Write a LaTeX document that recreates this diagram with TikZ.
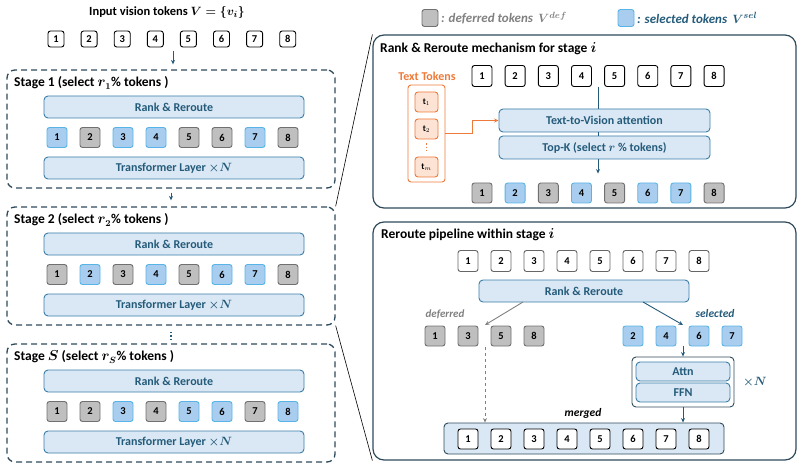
\documentclass[tikz,border=0pt]{standalone}
\usepackage{amsmath}
\usepackage{fontspec}
\setmainfont{Carlito}
\usetikzlibrary{arrows.meta,calc}
\definecolor{teal1}{HTML}{245B7A}
\definecolor{rrfill}{HTML}{DAE8F5}
\definecolor{rrdraw}{HTML}{3A7DA8}
\definecolor{selfill}{HTML}{A9CDEE}
\definecolor{seldraw}{HTML}{58B4E6}
\definecolor{deffill}{HTML}{BFBFBF}
\definecolor{defdraw}{HTML}{707070}
\definecolor{frame}{HTML}{2E4A5A}
\definecolor{orng}{HTML}{EE7A3A}
\definecolor{orfill}{HTML}{FCE3D4}
\definecolor{gtext}{HTML}{808080}
\begin{document}
\begin{tikzpicture}[x=1pt,y=-1pt,
  tokbase/.style={rounded corners=2.5pt, minimum width=20pt, minimum height=20pt, inner sep=0pt, line width=0.9pt, font=\bfseries\fontsize{10.5}{10.5}\selectfont},
  wtok/.style={tokbase, draw=black, fill=white},
  wtokin/.style={wtok, minimum width=16pt, minimum height=16pt},
  gwtok/.style={tokbase, draw=black!60, fill=white},
  stok/.style={tokbase, draw=seldraw, fill=selfill},
  dtok/.style={tokbase, draw=defdraw, fill=deffill},
  rrbox/.style={draw=rrdraw, fill=rrfill, line width=0.9pt, rounded corners=4pt, inner sep=0pt, text=teal1, font=\bfseries\boldmath\fontsize{12}{12}\selectfont},
  stagebox/.style={draw=frame, line width=1.3pt, dash pattern=on 6pt off 4pt, rounded corners=8pt},
  panel/.style={draw=frame, line width=1.2pt, rounded corners=11pt},
  ttl/.style={anchor=west, inner sep=0pt, font=\bfseries\boldmath\fontsize{13.5}{14}\selectfont},
  arr/.style={-{Stealth[length=4.5pt,width=4pt]}, line width=0.9pt, draw=teal1},
  garr/.style={-{Stealth[length=4.5pt,width=4pt]}, line width=0.9pt, draw=gtext},
  ttok/.style={draw=orng, fill=orfill, line width=0.9pt, rounded corners=3pt, minimum width=23pt, minimum height=20pt, inner sep=0pt, font=\bfseries\fontsize{9}{9}\selectfont},
]
\useasboundingbox (0,0) rectangle (803,465);

% ---------- left column ----------
\node[inner sep=0pt, font=\bfseries\boldmath\fontsize{12.5}{13}\selectfont] (intitle) at (167,13) {Input vision tokens $V=\{v_i\}$};
\foreach \k in {1,...,8}
  \node[wtokin] (in\k) at ({56+33.1*(\k-1)},39) {\k};

\foreach \T/\nm/\sub/\c [count=\i] in {70/1/1/{stok,dtok,stok,stok,dtok,dtok,stok,dtok},
                                     207/2/2/{dtok,stok,dtok,stok,dtok,stok,stok,dtok},
                                     344/$S$/S/{dtok,dtok,stok,dtok,stok,stok,dtok,stok}}{
  \node[stagebox, minimum width=328pt, minimum height=118pt, inner sep=0pt] (s\i) at (171,\T+59) {};
  \node[ttl] (st\i) at (14,\T+13) {Stage \nm{} (select $r_{\sub}$\% tokens )};
  \node[rrbox, minimum width=260pt, minimum height=22pt] (r\i) at (174,\T+37) {Rank \& Reroute};
  \foreach \st [count=\k] in \c
    \node[\st] (t\i-\k) at ({57+33*(\k-1)},\T+67.5) {\k};
  \node[rrbox, minimum width=260pt, minimum height=22pt] (tr\i) at (174,\T+98) {Transformer Layer ${\times}N$};
}
\coordinate (inarr) at (173,51);
\draw[arr, shorten >=5pt] (inarr) -- (inarr |- s1.north);
\draw[arr, shorten <=4pt, shorten >=6pt] (s1.south) -- (s2.north);
\draw[teal1, line width=1.6pt, dash pattern=on 1.6pt off 2pt, shorten <=6pt, shorten >=3pt] (s2.south) -- (s3.north);

% ---------- legend ----------
\node[dtok, minimum width=16pt, minimum height=17pt] (lgd) at (430,18) {};
\node[anchor=west, inner sep=0pt, text=gtext, font=\bfseries\itshape\boldmath\fontsize{13}{13}\selectfont] (lgdt) at (441,18) {: deferred tokens \,$V^{def}$};
\node[stok, minimum width=16pt, minimum height=17pt] (lgs) at (626,18) {};
\node[anchor=west, inner sep=0pt, text=teal1, font=\bfseries\itshape\boldmath\fontsize{13}{13}\selectfont] (lgst) at (637,18) {: selected tokens \,$V^{sel}$};

% ---------- top right panel ----------
\node[panel, minimum width=423pt, minimum height=173pt, inner sep=0pt] (P1) at (584.5,121.5) {};
\node[ttl] (P1t) at (380,49) {Rank \& Reroute mechanism for stage $i$};
\node[inner sep=0pt, text=orng, font=\bfseries\fontsize{12}{12}\selectfont] (ttl) at (427,76) {Text Tokens};
\node[draw=orng, line width=0.9pt, rounded corners=3pt, minimum width=37pt, minimum height=97pt, inner sep=0pt] (obox) at (426.5,133.5) {};
\node[ttok] (tt1) at (426.5,102) {t$_1$};
\node[ttok] (tt2) at (426.5,129) {t$_2$};
\node[ttok] (ttm) at (426.5,167) {t$_m$};
\draw[orng, line width=1.3pt, dash pattern=on 1.3pt off 2pt, shorten <=4pt, shorten >=4pt] (tt2.south) -- (ttm.north);
\foreach \k in {1,...,8}
  \node[wtok, minimum height=21pt] (a\k) at ({482+33.15*(\k-1)},76) {\k};
\node[rrbox, minimum width=211pt, minimum height=23pt] (t2v) at (604.5,120.5) {Text-to-Vision attention};
\node[rrbox, minimum width=211pt, minimum height=23pt] (topk) at (604.5,147.5) {Top-K (select $r$ \% tokens)};
\foreach \st [count=\k] in {dtok,stok,dtok,stok,dtok,stok,stok,dtok}
  \node[\st] (o\k) at ({482+33.15*(\k-1)},193) {\k};
\coordinate (mid1) at (598,87);
\draw[teal1, line width=0.9pt] (mid1) -- (mid1 |- t2v.north);
\draw[teal1, line width=0.9pt] (mid1 |- t2v.south) -- (mid1 |- topk.north);
\draw[arr, shorten >=9pt] (mid1 |- topk.south) -- (mid1 |- o4.north);
\draw[orng, line width=1pt, -{Stealth[length=4.5pt,width=4pt]}] (obox.east) -- ++(27,0) |- (t2v.west);

% ---------- bottom right panel ----------
\node[panel, minimum width=423pt, minimum height=238pt, inner sep=0pt] (P2) at (584.5,341) {};
\node[ttl] (P2t) at (381,235) {Reroute pipeline within stage $i$};
\foreach \k in {1,...,8}
  \node[gwtok, minimum height=21pt] (b\k) at ({468+33*(\k-1)},261) {\k};
\node[rrbox, minimum width=210pt, minimum height=22pt] (rr) at (584,291) {Rank \& Reroute};
\node[inner sep=0pt, text=gtext, font=\bfseries\itshape\fontsize{11}{11}\selectfont] (deflab) at (445,314) {deferred};
\node[inner sep=0pt, text=teal1, font=\bfseries\itshape\fontsize{11.5}{11.5}\selectfont] (sellab) at (715,314) {selected};
\foreach \n/\x in {1/435,3/468,5/501,8/534}
  \node[dtok] (d\n) at (\x,336) {\n};
\foreach \n/\x in {2/633,4/666,6/699,7/732}
  \node[stok] (e\n) at (\x,336) {\n};
\coordinate (gs) at (523,302);
\coordinate (gt) at (485,325);
\coordinate (bs) at (643,302);
\coordinate (bt) at (683,325);
\draw[garr] (gs) -- (gt);
\draw[arr] (bs) -- (bt);
\node[draw=frame, line width=0.9pt, fill=white, rounded corners=4pt, minimum width=102pt, minimum height=50pt, inner sep=0pt] (grp) at (683,382) {};
\node[rrbox, minimum width=94pt, minimum height=19pt] (attn) at (683,371.5) {Attn};
\node[rrbox, minimum width=94pt, minimum height=19pt] (ffn) at (683,392.5) {FFN};
\node[anchor=west, inner sep=0pt, text=teal1, font=\boldmath\fontsize{12}{12}\selectfont] (xn) at (743,382) {${\times}N$};
\coordinate (sa) at (683,346);
\draw[arr] (sa) -- (grp.north);
\node[inner sep=0pt, font=\bfseries\itshape\fontsize{11.5}{11.5}\selectfont] (mlab) at (583,413) {merged};
\node[draw=frame, fill=rrfill, line width=0.9pt, rounded corners=4pt, minimum width=280pt, minimum height=31pt, inner sep=0pt] (mg) at (584,438.5) {};
\foreach \k in {1,...,8}
  \node[wtok] (m\k) at ({468+33*(\k-1)},439) {\k};
\draw[arr] (grp.south) -- (grp.south |- mg.north);
\coordinate (ds) at (485,347);
\draw[garr, dashed] (ds) -- (ds |- mg.north);

% ---------- zoom lines ----------
\draw[black, line width=0.6pt] (s2.north east) -- (P1.north west);
\draw[black, line width=0.6pt] (s2.south east) -- (P2.south west);
\end{tikzpicture}
\end{document}
